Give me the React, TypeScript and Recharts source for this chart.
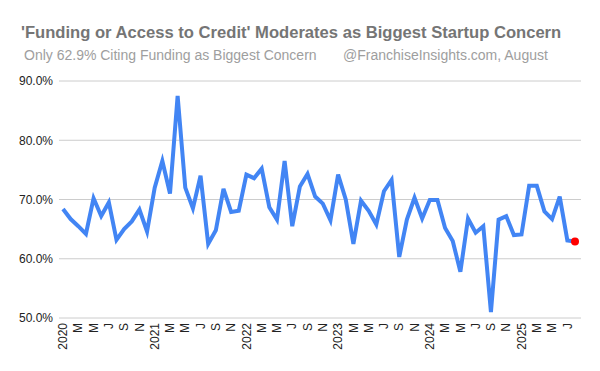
import React from 'react';
import { LineChart, Line, XAxis, YAxis, CartesianGrid } from 'recharts';

// Monthly survey results, Jan 2020 through Aug 2025
const years = ['2020', '2021', '2022', '2023', '2024', '2025'];
const monthLetters = ['', 'F', 'M', 'A', 'M', 'J', 'J', 'A', 'S', 'O', 'N', 'D'];

const fundingShare = [
  68.4, 66.7, 65.5, 64.2, 70.2, 67.2, 69.5, 63.2, 65.0, 66.3, 68.3, 64.6,
  72.0, 76.5, 71.0, 87.5, 72.0, 68.5, 74.0, 62.5, 64.8, 71.8, 67.9, 68.1,
  74.2, 73.6, 75.2, 68.7, 66.6, 76.5, 65.5, 72.2, 74.3, 70.5, 69.3, 66.5,
  74.2, 70.0, 62.5, 69.8, 68.1, 65.8, 71.4, 73.3, 60.3, 66.6, 70.3, 66.8,
  69.9, 69.9, 65.2, 63.0, 57.8, 66.8, 64.4, 65.5, 51.0, 66.6, 67.2, 64.0,
  64.1, 72.3, 72.3, 68.0, 66.7, 70.5, 63.1, 62.9,
];

const yTicks = [50, 60, 70, 80, 90];

const data = fundingShare.map((value, i) => {
  const year = years[Math.floor(i / 12)];
  const m = i % 12;
  return { month: `${year}-${m + 1}`, label: m === 0 ? year : monthLetters[m], value };
});

const labelFor = (key: string) => {
  const row = data.find((d) => d.month === key);
  return row ? row.label : '';
};

const FONT = '"Liberation Sans", Arial, sans-serif';

const MonthTick = (props: any) => {
  const { x, y, payload } = props;
  return (
    <text
      transform={`translate(${x},${y}) rotate(-90)`}
      textAnchor="end"
      dy="0.35em"
      fontSize={12}
      fontFamily={FONT}
      fill="#222"
    >
      {labelFor(payload.value)}
    </text>
  );
};

const LastDot = (props: any) => {
  const { cx, cy, index } = props;
  if (index !== data.length - 1) return <g key={`d-${index}`} />;
  return <circle key={`d-${index}`} cx={cx} cy={cy} r={4} fill="#ff0000" />;
};

export default function App() {
  return (
    <div style={{ position: 'absolute', left: 0, top: 0, width: 600, height: 371, background: '#fff', fontFamily: FONT }}>
      <div style={{ position: 'absolute', left: 21, top: 23, fontSize: 16.6, fontWeight: 'bold', color: '#757575', whiteSpace: 'nowrap', lineHeight: '19px' }}>
        'Funding or Access to Credit' Moderates as Biggest Startup Concern
      </div>
      <div style={{ position: 'absolute', left: 24, top: 47, fontSize: 14, color: '#9e9e9e', whiteSpace: 'nowrap', lineHeight: '16px' }}>
        Only 62.9% Citing Funding as Biggest Concern
      </div>
      <div style={{ position: 'absolute', left: 343, top: 47, fontSize: 14, color: '#9e9e9e', whiteSpace: 'nowrap', lineHeight: '16px' }}>
        @FranchiseInsights.com, August
      </div>
      <LineChart
        width={600}
        height={371}
        data={data}
        margin={{ top: 81, right: 19, bottom: 0, left: 0 }}
      >
        <CartesianGrid vertical={false} stroke="#cccccc" strokeDasharray="" />
        <XAxis
          dataKey="month"
          interval={1}
          tickLine={false}
          axisLine={false}
          tickSize={0}
          tickMargin={5}
          height={53}
          padding={{ left: 4, right: 6 }}
          tick={<MonthTick />}
        />
        <YAxis
          domain={[50, 90]}
          ticks={yTicks}
          width={59}
          tickLine={false}
          axisLine={false}
          tickSize={0}
          tickMargin={6}
          tickFormatter={(v: number) => `${v.toFixed(1)}%`}
          tick={{ fontSize: 12, fill: '#222', fontFamily: FONT }}
        />
        <Line
          type="linear"
          dataKey="value"
          stroke="#4285f4"
          strokeWidth={4}
          dot={<LastDot />}
          activeDot={false}
          isAnimationActive={false}
        />
      </LineChart>
    </div>
  );
}
